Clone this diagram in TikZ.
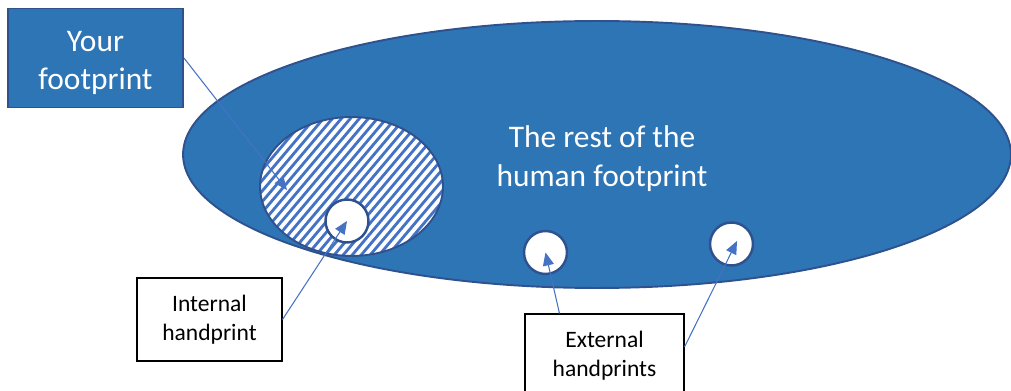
\documentclass[tikz,border=0pt]{standalone}
\usepackage{fontspec}
\setmainfont{Carlito}
\usetikzlibrary{shapes.geometric,arrows.meta}
\definecolor{fpfill}{HTML}{2E75B6}
\definecolor{fpline}{HTML}{2F528F}
\definecolor{linkblue}{HTML}{4472C4}

\begin{document}
\begin{tikzpicture}[x=0.02cm, y=-0.02cm,
  bigtext/.style={font=\fontsize{17.9}{21.8}\selectfont, text=white, align=center},
  smalltext/.style={font=\fontsize{13.4}{16.3}\selectfont, align=center},
  bluebox/.style={draw=fpline, fill=fpfill, line width=1.1pt, inner sep=0pt,
    minimum width=3.5cm, minimum height=1.98cm},
  labelbox/.style={draw=black, fill=white, line width=0.6pt, inner sep=0pt,
    minimum height=1.66cm, smalltext},
  hand/.style={circle, draw=fpline, fill=white, line width=1.4pt,
    minimum size=0.86cm, inner sep=0pt},
  link/.style={draw=linkblue, line width=0.6pt,
    -{Triangle[length=0.26cm, width=0.22cm]}}]

  \useasboundingbox (0,0) rectangle (1011,391);

  % the rest of the human footprint
  \node[ellipse, draw=fpline, fill=fpfill, line width=1.1pt, inner sep=0pt,
    minimum width=16.56cm, minimum height=5.34cm] (rest) at (597,154.5) {};
  \node[bigtext] (resttext) at (602,158.5) {The rest of the\\human footprint};

  % your own footprint, hatched
  \node[ellipse, draw=fpline, fill=white, line width=1.1pt, inner sep=0pt,
    minimum width=3.66cm, minimum height=2.78cm,
    path picture={\foreach \k in {-30,...,30}
      \draw[linkblue, line width=1.6pt]
        ([xshift=\k*0.18cm, yshift=-1.6cm]path picture bounding box.center) -- ++(2.7cm,3.2cm);}]
    (yours) at (351.5,186.5) {};

  % handprints
  \node[hand] (hp1) at (347,221) {};
  \node[hand] (hp2) at (545.5,252.5) {};
  \node[hand] (hp3) at (731.5,244) {};
  \coordinate (hp3tip) at (737,241);

  % labels
  \node[bluebox] (yfp) at (95.5,58) {};
  \node[bigtext] (yfptext) at (95.5,63) {Your\\footprint};
  \node[labelbox, minimum width=2.9cm] (ihp) at (209.5,319.5) {Internal\\handprint};
  \node[labelbox, minimum width=3.18cm] (ehp) at (604.5,355.5) {External\\handprints};
  \coordinate (yourstip) at (287,190);

  % arrows
  \draw[link] (yfp.east) -- (yourstip);
  \draw[link] (ihp.east) -- (hp1.center);
  \draw[link] ([xshift=-0.9cm]ehp.north) -- (hp2.center);
  \draw[link] ([yshift=0.17cm]ehp.east) -- (hp3tip);
\end{tikzpicture}
\end{document}
